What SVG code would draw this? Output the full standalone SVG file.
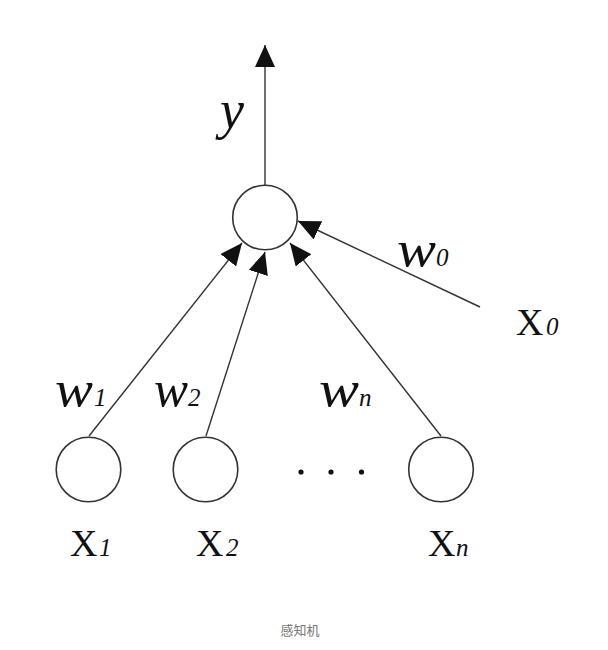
<svg xmlns="http://www.w3.org/2000/svg" width="608" height="650" viewBox="0 0 608 650">
<style>
.node{fill:#fff;stroke:#333;stroke-width:1.6}
.edge{stroke:#333;stroke-width:1.4;fill:none}
.w{font-style:italic;font-size:50px}
.sub{font-style:italic;font-size:25px}
.X{font-size:38px}
</style>
<defs>
<marker id="ah" viewBox="0 0 22 20" refX="22" refY="10" markerWidth="22" markerHeight="20" markerUnits="userSpaceOnUse" orient="auto">
<path d="M0,0 L22,10 L0,20 z" fill="#111"/>
</marker>
</defs>
<rect width="608" height="650" fill="#fff"/>
<g id="connectors">
<line class="edge" x1="265" y1="185" x2="265" y2="45" marker-end="url(#ah)"/>
<line class="edge" x1="89" y1="436" x2="242" y2="243" marker-end="url(#ah)"/>
<line class="edge" x1="206" y1="436" x2="265" y2="252" marker-end="url(#ah)"/>
<line class="edge" x1="441" y1="436" x2="290" y2="243" marker-end="url(#ah)"/>
<line class="edge" x1="480" y1="307" x2="298" y2="221" marker-end="url(#ah)"/>
</g>
<g id="sum">
<circle class="node" cx="265" cy="217.5" r="32.3"/>
</g>
<g font-family="Liberation Serif, DejaVu Serif, serif" fill="#111">
<g id="output">
<text x="220" y="128" font-style="italic" font-size="54">y</text>
</g>
<g id="x1">
<circle class="node" cx="88.5" cy="469.5" r="32.3"/>
<text class="X" x="70" y="556">X</text><text class="sub" x="99" y="556">1</text>
</g>
<g id="x2">
<circle class="node" cx="205.5" cy="469.5" r="32.3"/>
<text class="X" x="196" y="556">X</text><text class="sub" x="226" y="556">2</text>
</g>
<g id="xn">
<circle class="node" cx="441" cy="469.5" r="32.3"/>
<text class="X" x="428" y="556">X</text><text class="sub" x="456" y="556" font-size="29">n</text>
</g>
<g id="x0">
<text class="X" x="516" y="335">X</text><text class="sub" x="546" y="335">0</text>
</g>
<g id="weights">
<text class="w" x="55" y="406" textLength="38" lengthAdjust="spacingAndGlyphs">w</text><text class="sub" x="94" y="406">1</text>
<text class="w" x="154" y="406" textLength="34" lengthAdjust="spacingAndGlyphs">w</text><text class="sub" x="188" y="406">2</text>
<text class="w" x="319" y="406" textLength="40" lengthAdjust="spacingAndGlyphs">w</text><text class="sub" x="359" y="406" font-size="28">n</text>
<text class="w" x="397" y="266" textLength="39" lengthAdjust="spacingAndGlyphs">w</text><text class="sub" x="436" y="266">0</text>
</g>
</g>
<g id="dots" fill="#111">
<circle cx="301" cy="472" r="2.6"/>
<circle cx="331" cy="472" r="2.6"/>
<circle cx="361.5" cy="472" r="2.6"/>
</g>
<text x="300" y="635" text-anchor="middle" font-family="Noto Sans CJK SC, Noto Sans, sans-serif" font-size="13" fill="#777">感知机</text>
</svg>
